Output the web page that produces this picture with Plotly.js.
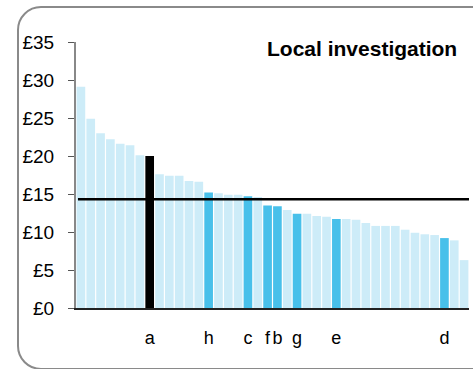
<!DOCTYPE html>
<html>
<head>
<meta charset="utf-8">
<script src="https://cdn.plot.ly/plotly-3.0.1.min.js"></script>
<style>
html,body{margin:0;padding:0;background:#fff;overflow:hidden;}
#frame{position:absolute;left:17px;top:6px;width:520px;height:364px;border:2px solid #8a8a8a;border-radius:24px;box-sizing:border-box;}
#chart{position:absolute;left:0;top:0;width:473px;height:369px;}
</style>
</head>
<body>
<div id="frame"></div>
<div id="chart"></div>
<script>
// Values (£) for each area, sorted descending
const values = [29.1, 24.9, 23.0, 22.2, 21.6, 21.4, 20.1, 20.0, 17.6, 17.4,
                17.4, 16.7, 16.6, 15.2, 15.1, 14.9, 14.9, 14.7, 14.6, 13.5,
                13.4, 12.9, 12.4, 12.4, 12.1, 12.0, 11.7, 11.7, 11.6, 11.2,
                10.8, 10.8, 10.8, 10.3, 9.9, 9.7, 9.6, 9.2, 8.9, 6.3];
// Label for each bar ("" = unlabeled)
const barLabels = ["", "", "", "", "", "", "", "a", "", "",
                   "", "", "", "h", "", "", "", "c", "", "f",
                   "b", "", "g", "", "", "", "e", "", "", "",
                   "", "", "", "", "", "", "", "d", "", ""];
// Highlight kind: 0 = other, 1 = comparator, 2 = local
const kinds = [0,0,0,0,0,0,0,2,0,0,
               0,0,0,1,0,0,0,1,0,1,
               1,0,1,0,0,0,1,0,0,0,
               0,0,0,0,0,0,0,1,0,0];
const average = 14.3;
const yTicks = [0, 5, 10, 15, 20, 25, 30, 35];
const yTickText = yTicks.map(v => "£" + v);

const palette = ["#cdecf8", "#48c0ea", "#000000"];
const idx = values.map((_, i) => i);
const tickIdx = idx.filter(i => barLabels[i] !== "");

const bars = {
  type: "bar",
  x: idx,
  y: values,
  marker: {color: kinds.map(k => palette[k]), line: {width: 0}},
  hoverinfo: "skip"
};
const avgLine = {
  type: "scatter",
  mode: "lines",
  x: [idx[0] - 0.3, idx[idx.length - 1] + 0.5],
  y: [average, average],
  line: {color: "#000", width: 2.5},
  hoverinfo: "skip"
};

const layout = {
  width: 473, height: 369,
  margin: {l: 76, r: 4, t: 42, b: 61},
  paper_bgcolor: "rgba(0,0,0,0)",
  plot_bgcolor: "rgba(0,0,0,0)",
  showlegend: false,
  bargap: 0.12,
  font: {family: "Liberation Sans, Arial, sans-serif", size: 18, color: "#000"},
  xaxis: {
    range: [-0.5, 39.5],
    tickvals: tickIdx,
    ticktext: tickIdx.map(i => barLabels[i]),
    ticks: "",
    tickangle: 0,
    ticklabelstandoff: 12,
    showgrid: false, zeroline: false,
    showline: true, linecolor: "#222", linewidth: 2,
    tickfont: {size: 18}
  },
  yaxis: {
    range: [0, 35],
    tickvals: yTicks,
    ticktext: yTickText,
    ticks: "outside", ticklen: 6, tickcolor: "#555", tickwidth: 1,
    ticklabelstandoff: 10,
    showgrid: false, zeroline: false,
    showline: true, linecolor: "#888", linewidth: 2,
    tickfont: {size: 19}
  },
  annotations: [{
    text: "<b>Local investigation</b>",
    xref: "paper", yref: "paper", x: 1, y: 1,
    xanchor: "right", yanchor: "middle",
    xshift: -10, yshift: -6,
    showarrow: false,
    font: {size: 21, color: "#000"}
  }]
};

Plotly.newPlot("chart", [bars, avgLine], layout, {displayModeBar: false, staticPlot: true});
</script>
</body>
</html>
